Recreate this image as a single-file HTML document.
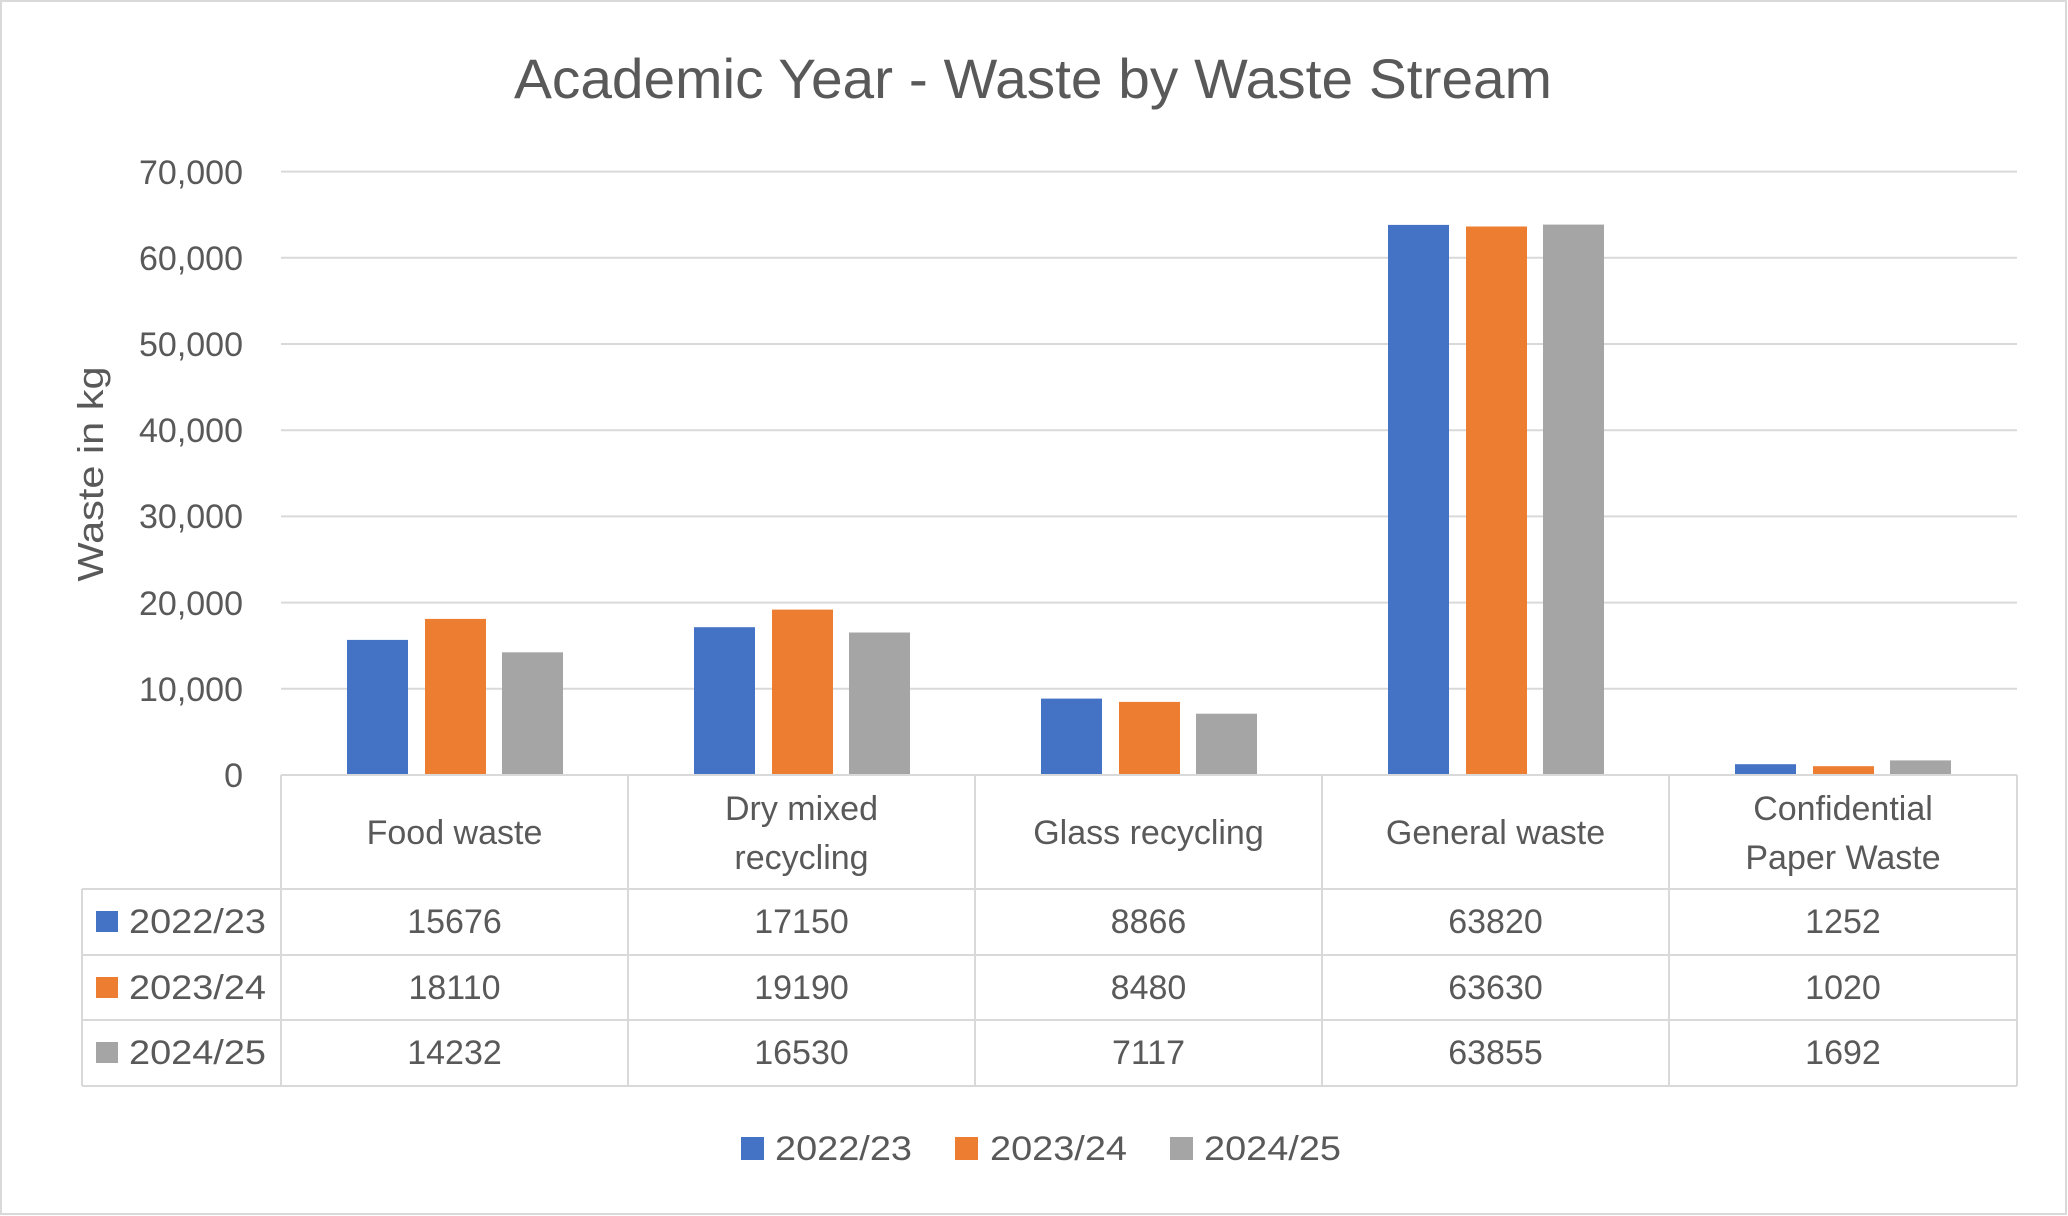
<!DOCTYPE html>
<html><head><meta charset="utf-8"><style>
html,body{margin:0;padding:0;background:#fff;}
svg{display:block;}
text{font-family:"Liberation Sans",sans-serif;fill:#595959;}
</style></head><body>
<svg width="2068" height="1216" viewBox="0 0 2068 1216" xmlns="http://www.w3.org/2000/svg">
<rect x="1" y="1" width="2065" height="1213" fill="#fff" stroke="#d9d9d9" stroke-width="2"/>
<text x="1033" y="98" font-size="56" text-anchor="middle" textLength="1038" lengthAdjust="spacingAndGlyphs">Academic Year - Waste by Waste Stream</text>
<g stroke="#d9d9d9" stroke-width="2">
<line x1="281" y1="171.6" x2="2017" y2="171.6"/>
<line x1="281" y1="257.8" x2="2017" y2="257.8"/>
<line x1="281" y1="344" x2="2017" y2="344"/>
<line x1="281" y1="430.2" x2="2017" y2="430.2"/>
<line x1="281" y1="516.4" x2="2017" y2="516.4"/>
<line x1="281" y1="602.6" x2="2017" y2="602.6"/>
<line x1="281" y1="688.8" x2="2017" y2="688.8"/>
</g>
<g font-size="34" text-anchor="end">
<text x="243" y="184">70,000</text>
<text x="243" y="270">60,000</text>
<text x="243" y="356">50,000</text>
<text x="243" y="442">40,000</text>
<text x="243" y="528">30,000</text>
<text x="243" y="615">20,000</text>
<text x="243" y="701">10,000</text>
<text x="243" y="787">0</text>
</g>
<text transform="translate(103,474) rotate(-90)" font-size="36" text-anchor="middle" textLength="215" lengthAdjust="spacingAndGlyphs">Waste in kg</text>
<!-- bars: y0=775, 0.00862 px/kg -->
<g>
<rect x="347" y="639.9" width="61" height="135.1" fill="#4472c4"/>
<rect x="425" y="618.9" width="61" height="156.1" fill="#ed7d31"/>
<rect x="502" y="652.3" width="61" height="122.7" fill="#a5a5a5"/>
<rect x="694" y="627.2" width="61" height="147.8" fill="#4472c4"/>
<rect x="772" y="609.6" width="61" height="165.4" fill="#ed7d31"/>
<rect x="849" y="632.5" width="61" height="142.5" fill="#a5a5a5"/>
<rect x="1041" y="698.6" width="61" height="76.4" fill="#4472c4"/>
<rect x="1119" y="701.9" width="61" height="73.1" fill="#ed7d31"/>
<rect x="1196" y="713.7" width="61" height="61.3" fill="#a5a5a5"/>
<rect x="1388" y="224.9" width="61" height="550.1" fill="#4472c4"/>
<rect x="1466" y="226.5" width="61" height="548.5" fill="#ed7d31"/>
<rect x="1543" y="224.6" width="61" height="550.4" fill="#a5a5a5"/>
<rect x="1735" y="764.2" width="61" height="10.8" fill="#4472c4"/>
<rect x="1813" y="766.2" width="61" height="8.8" fill="#ed7d31"/>
<rect x="1890" y="760.4" width="61" height="14.6" fill="#a5a5a5"/>
</g>
<!-- table -->
<g stroke="#d9d9d9" stroke-width="2" fill="none">
<line x1="281" y1="775" x2="2017" y2="775"/>
<line x1="82" y1="889" x2="2017" y2="889"/>
<line x1="82" y1="955" x2="2017" y2="955"/>
<line x1="82" y1="1020" x2="2017" y2="1020"/>
<line x1="82" y1="1086" x2="2017" y2="1086"/>
<line x1="82" y1="889" x2="82" y2="1086"/>
<line x1="281" y1="775" x2="281" y2="1086"/>
<line x1="628" y1="775" x2="628" y2="1086"/>
<line x1="975" y1="775" x2="975" y2="1086"/>
<line x1="1322" y1="775" x2="1322" y2="1086"/>
<line x1="1669" y1="775" x2="1669" y2="1086"/>
<line x1="2017" y1="775" x2="2017" y2="1086"/>
</g>
<g font-size="34" text-anchor="middle">
<text x="454.5" y="844">Food waste</text>
<text x="801.5" y="820">Dry mixed</text>
<text x="801.5" y="869">recycling</text>
<text x="1148.5" y="844">Glass recycling</text>
<text x="1495.5" y="844">General waste</text>
<text x="1843" y="820">Confidential</text>
<text x="1843" y="869">Paper Waste</text>
<text x="454.5" y="933">15676</text><text x="801.5" y="933">17150</text><text x="1148.5" y="933">8866</text><text x="1495.5" y="933">63820</text><text x="1843" y="933">1252</text>
<text x="454.5" y="999">18110</text><text x="801.5" y="999">19190</text><text x="1148.5" y="999">8480</text><text x="1495.5" y="999">63630</text><text x="1843" y="999">1020</text>
<text x="454.5" y="1064">14232</text><text x="801.5" y="1064">16530</text><text x="1148.5" y="1064">7117</text><text x="1495.5" y="1064">63855</text><text x="1843" y="1064">1692</text>
</g>
<rect x="96" y="911" width="22" height="21" fill="#4472c4"/>
<rect x="96" y="977" width="22" height="21" fill="#ed7d31"/>
<rect x="96" y="1042" width="22" height="21" fill="#a5a5a5"/>
<g font-size="34">
<text x="129" y="933" textLength="137" lengthAdjust="spacingAndGlyphs">2022/23</text>
<text x="129" y="999" textLength="137" lengthAdjust="spacingAndGlyphs">2023/24</text>
<text x="129" y="1064" textLength="137" lengthAdjust="spacingAndGlyphs">2024/25</text>
</g>
<!-- legend -->
<rect x="741" y="1137" width="23" height="23" fill="#4472c4"/>
<rect x="955" y="1137" width="23" height="23" fill="#ed7d31"/>
<rect x="1170" y="1137" width="23" height="23" fill="#a5a5a5"/>
<g font-size="34">
<text x="775" y="1160" textLength="137" lengthAdjust="spacingAndGlyphs">2022/23</text>
<text x="990" y="1160" textLength="137" lengthAdjust="spacingAndGlyphs">2023/24</text>
<text x="1204" y="1160" textLength="137" lengthAdjust="spacingAndGlyphs">2024/25</text>
</g>
</svg>
</body></html>
